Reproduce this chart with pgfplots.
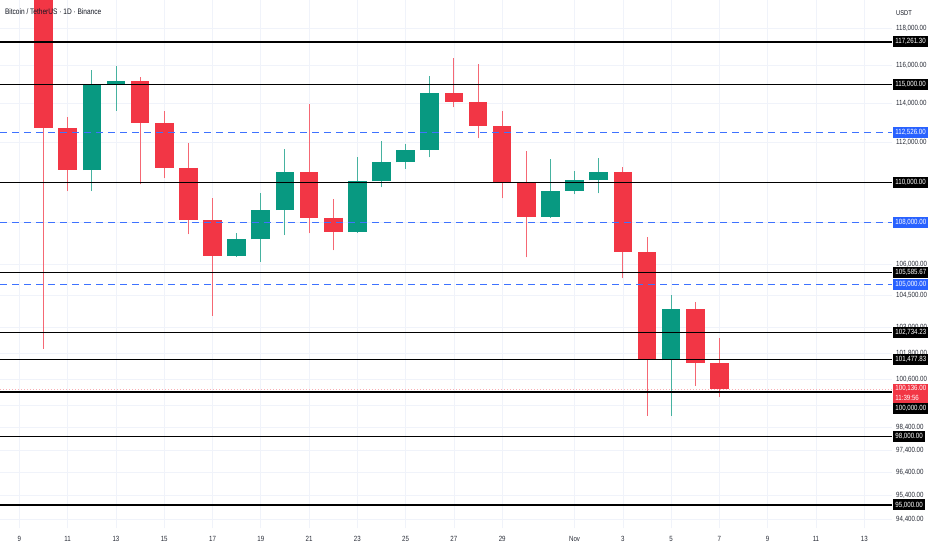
\documentclass[border=0pt]{standalone}
\usepackage{fontspec}
\setmainfont{Liberation Sans}[FakeStretch=0.82]
\usepackage{pgfplots}
\pgfplotsset{compat=1.18}
\definecolor{tvred}{HTML}{F23645}
\definecolor{tvgreen}{HTML}{089981}
\definecolor{tvblue}{HTML}{2962FF}
\definecolor{tvgrid}{HTML}{F0F3FA}
\definecolor{tvtext}{HTML}{131722}
\definecolor{tvtick}{HTML}{2A2E39}
% candle: day, open, high, low, close, colour
\newcommand\candle[6]{%
  \addplot[#6!75, line width=0.9pt, forget plot] coordinates {(#1,#4) (#1,#3)};
  \addplot[#6, line width=18.6pt, line cap=butt, forget plot] coordinates {(#1,#2) (#1,#5)};
}
\newcommand\level[2]{%
  \addplot[black, line width=#2, forget plot] coordinates {(-0.804,#1) (36.15,#1)};
}
\newcommand\dlevel[1]{%
  \addplot[tvblue!90, line width=1.3pt, dash pattern=on 7pt off 5pt, forget plot] coordinates {(-0.804,#1) (36.15,#1)};
}
\newcommand\plabel[4][0pt]{%
  \node[fill=#3, text=white, anchor=west, font=\fontsize{7.5}{8}\selectfont, inner xsep=2.2pt, inner ysep=0pt, minimum height=11pt] at (axis cs:36.15,#2) [xshift=1pt, yshift=#1] {#4};
}
\begin{document}
\begin{tikzpicture}
\fill[white] (0,-22pt) rectangle (932pt,528pt);
\begin{axis}[
  at={(0,0)}, anchor=south west,
  scale only axis, width=892pt, height=528pt,
  xmin=-0.804, xmax=36.15,
  y coord trafo/.code={\begingroup\pgfkeys{/pgf/fpu=true,/pgf/fpu/output format=fixed}\pgfmathparse{ln(#1)-11.5}\pgfmathsmuggle\pgfmathresult\endgroup},
  y coord inv trafo/.code={\begingroup\pgfkeys{/pgf/fpu=true,/pgf/fpu/output format=fixed}\pgfmathparse{exp(#1+11.5)}\pgfmathsmuggle\pgfmathresult\endgroup},
  ymin=94011, ymax=119505,
  axis line style={draw=none}, tick style={draw=none},
  clip mode=individual,
  xmajorgrids, ymajorgrids, grid style={tvgrid, line width=0.7pt},
  ytick={94400,95400,96400,97400,98400,99400,100600,101800,103000,104500,106000,108000,110000,112000,114000,116000,118000},
  yticklabels={{94,400.00},{95,400.00},{96,400.00},{97,400.00},{98,400.00},{},{100,600.00},{101,800.00},{103,000.00},{104,500.00},{106,000.00},{},{},{112,000.00},{114,000.00},{116,000.00},{118,000.00}},
  yticklabel pos=right,
  xtick={0,2,4,6,8,10,12,14,16,18,20,23,25,27,29,31,33,35},
  xticklabels={9,11,13,15,17,19,21,23,25,27,29,Nov,3,5,7,9,11,13},
  tick label style={font=\fontsize{7.5}{8}\selectfont, text=tvtick},
  yticklabel style={anchor=west, inner xsep=0pt, xshift=4pt},
  xticklabel style={anchor=center, yshift=-11pt},
]
% candles
\candle{1}{121256}{122550}{102000}{112765}{tvred}
\candle{2}{112765}{113332}{109568}{110618}{tvred}
\candle{3}{110618}{115763}{109568}{115012}{tvgreen}
\candle{4}{115012}{115990}{113642}{115186}{tvgreen}
\candle{5}{115186}{115411}{109903}{113022}{tvred}
\candle{6}{113022}{113642}{110201}{110735}{tvred}
\candle{7}{110735}{112000}{107432}{108132}{tvred}
\candle{8}{108132}{109235}{103529}{106377}{tvred}
\candle{9}{106377}{107510}{106340}{107187}{tvgreen}
\candle{10}{107187}{109453}{106103}{108626}{tvgreen}
\candle{11}{108626}{111695}{107400}{110518}{tvgreen}
\candle{12}{110518}{113988}{107482}{108246}{tvred}
\candle{13}{108246}{109170}{106652}{107545}{tvred}
\candle{14}{107545}{111290}{107500}{110052}{tvgreen}
\candle{15}{110052}{112087}{109752}{111007}{tvgreen}
\candle{16}{111007}{111934}{110681}{111630}{tvgreen}
\candle{17}{111630}{115447}{111257}{114543}{tvgreen}
\candle{18}{114543}{116380}{113816}{114091}{tvred}
\candle{19}{114091}{116063}{112224}{112852}{tvred}
\candle{20}{112852}{113642}{109205}{110002}{tvred}
\candle{21}{110002}{111578}{106315}{108294}{tvred}
\candle{22}{108294}{111187}{108250}{109583}{tvgreen}
\candle{23}{109583}{110568}{109404}{110101}{tvgreen}
\candle{24}{110101}{111239}{109453}{110518}{tvgreen}
\candle{25}{110518}{110755}{105305}{106570}{tvred}
\candle{26}{106570}{107286}{98929}{101467}{tvred}
\candle{27}{101467}{104495}{98929}{103847}{tvgreen}
\candle{28}{103847}{104162}{100288}{101313}{tvred}
\candle{29}{101313}{102500}{99788}{100136}{tvred}
% current price line
\addplot[tvred!40, line width=0.8pt, dash pattern=on 1pt off 2pt, forget plot] coordinates {(-0.804,100136) (36.15,100136)};
% levels
\level{117261.3}{1.6pt}
\level{115000}{1.6pt}
\level{110000}{1.6pt}
\level{105585.67}{1.6pt}
\level{102734.23}{1pt}
\level{101477.83}{1pt}
\level{100000}{1.6pt}
\level{98000}{1.6pt}
\level{95000}{1.6pt}
\dlevel{112526}
\dlevel{108000}
\dlevel{105000}
% price labels
\plabel{117261.3}{black}{117,261.30}
\plabel{115000}{black}{115,000.00}
\plabel{112526}{tvblue}{112,526.00}
\plabel{110000}{black}{110,000.00}
\plabel{108000}{tvblue}{108,000.00}
\plabel{105585.67}{black}{105,585.67}
\plabel{105000}{tvblue}{105,000.00}
\plabel{102734.23}{black}{102,734.23}
\plabel{101477.83}{black}{101,477.83}
\plabel[-16pt]{100000}{black}{100,000.00}
\plabel{98000}{black}{98,000.00}
\plabel{95000}{black}{95,000.00}
\node[fill=tvred, text=white, anchor=north west, align=left, font=\fontsize{7.5}{10}\selectfont, inner xsep=2.2pt, inner ysep=1.8pt] at (axis cs:36.15,100136) [xshift=1pt, yshift=5.5pt] {100,136.00\\11:39:56};
\node[anchor=west, font=\fontsize{8}{9}\selectfont, text=tvtext] at (rel axis cs:0,1) [xshift=1.5pt, yshift=-12pt] {Bitcoin / TetherUS · 1D · Binance};
\node[anchor=west, font=\fontsize{7}{8}\selectfont, text=tvtext, inner sep=1pt] at (rel axis cs:1,1) [xshift=3pt, yshift=-13pt] {USDT};
\end{axis}
\pgfresetboundingbox
\path (0,-22pt) rectangle (932pt,528pt);
\end{tikzpicture}
\end{document}
